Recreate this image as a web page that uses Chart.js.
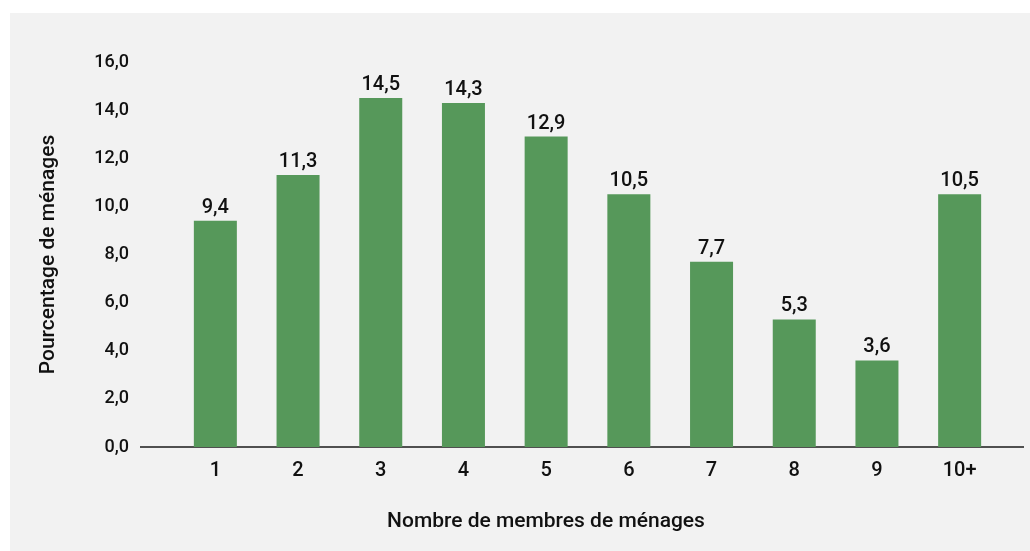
<!DOCTYPE html>
<html lang="fr">
<head>
<meta charset="utf-8">
<title>Ménages par nombre de membres</title>
<script src="https://cdn.jsdelivr.net/npm/chart.js@4/dist/chart.umd.min.js"></script>
<style>
  html, body { margin: 0; padding: 0; background: #ffffff; }
  #panel {
    position: absolute; left: 10px; top: 13px;
    width: 1020px; height: 538px; background: #f2f2f2;
  }
</style>
</head>
<body>
<div id="panel"><canvas id="chart" width="1020" height="538"></canvas></div>
<script>
// taille des ménages
const categories = ['1', '2', '3', '4', '5', '6', '7', '8', '9', '10+'];
const percentages = [9.4, 11.3, 14.5, 14.3, 12.9, 10.5, 7.7, 5.3, 3.6, 10.5];
const yTicks = [0, 2, 4, 6, 8, 10, 12, 14, 16];

const xTitle = 'Nombre de membres de ménages';
const yTitle = 'Pourcentage de ménages';

const textColor = '#111111';
const fmt = v => v.toFixed(1).replace('.', ',');

// valeurs au-dessus des barres + ligne de base + titre de l'axe x
const extras = {
    id: 'extras',
    beforeDatasetsDraw(chart) {
        const ctx = chart.ctx;
        const y = chart.scales.y.getPixelForValue(0);
        ctx.save();
        ctx.strokeStyle = '#1a1a1a';
        ctx.lineWidth = 1.5;
        ctx.beginPath();
        ctx.moveTo(130, y);
        ctx.lineTo(1014, y);
        ctx.stroke();
        ctx.restore();
    },
    afterDatasetsDraw(chart) {
        const ctx = chart.ctx;
        const meta = chart.getDatasetMeta(0);
        ctx.save();
        ctx.fillStyle = textColor;
        ctx.font = '500 20px Roboto';
        ctx.textAlign = 'center';
        ctx.textBaseline = 'alphabetic';
        meta.data.forEach((bar, i) => {
            ctx.fillText(fmt(percentages[i]), bar.x, bar.y - 8);
        });
        ctx.font = '500 21px Roboto';
        ctx.textBaseline = 'middle';
        ctx.fillText(xTitle, 536, 509);
        ctx.restore();
    }
};

const chart = new Chart(document.getElementById('chart'), {
    type: 'bar',
    data: {
        labels: categories,
        datasets: [{
            data: percentages,
            backgroundColor: '#56985a',
            barPercentage: 0.52,
            categoryPercentage: 1
        }]
    },
    options: {
        responsive: false,
        animation: false,
        layout: { padding: { top: 49, right: 29, left: 0, bottom: 0 } },
        plugins: {
            legend: { display: false },
            tooltip: { enabled: false }
        },
        scales: {
            x: {
                grid: { display: false },
                border: { display: false },
                ticks: {
                    color: textColor,
                    font: { family: 'Roboto', size: 20, weight: 500 },
                    padding: 4,
                    maxRotation: 0
                },
                afterFit(scale) { scale.height = 104; }
            },
            y: {
                min: 0,
                max: 16,
                grid: { display: false },
                border: { display: false },
                afterBuildTicks(scale) {
                    scale.ticks = yTicks.map(v => ({ value: v }));
                },
                ticks: {
                    color: textColor,
                    font: { family: 'Roboto', size: 18, weight: 500 },
                    padding: 37,
                    callback: v => fmt(v)
                },
                title: {
                    display: true,
                    text: yTitle,
                    color: textColor,
                    font: { family: 'Roboto', size: 21, weight: 500 },
                    padding: { top: 26, bottom: 0 }
                },
                afterFit(scale) { scale.width = 164; }
            }
        }
    },
    plugins: [extras]
});
</script>
</body>
</html>
